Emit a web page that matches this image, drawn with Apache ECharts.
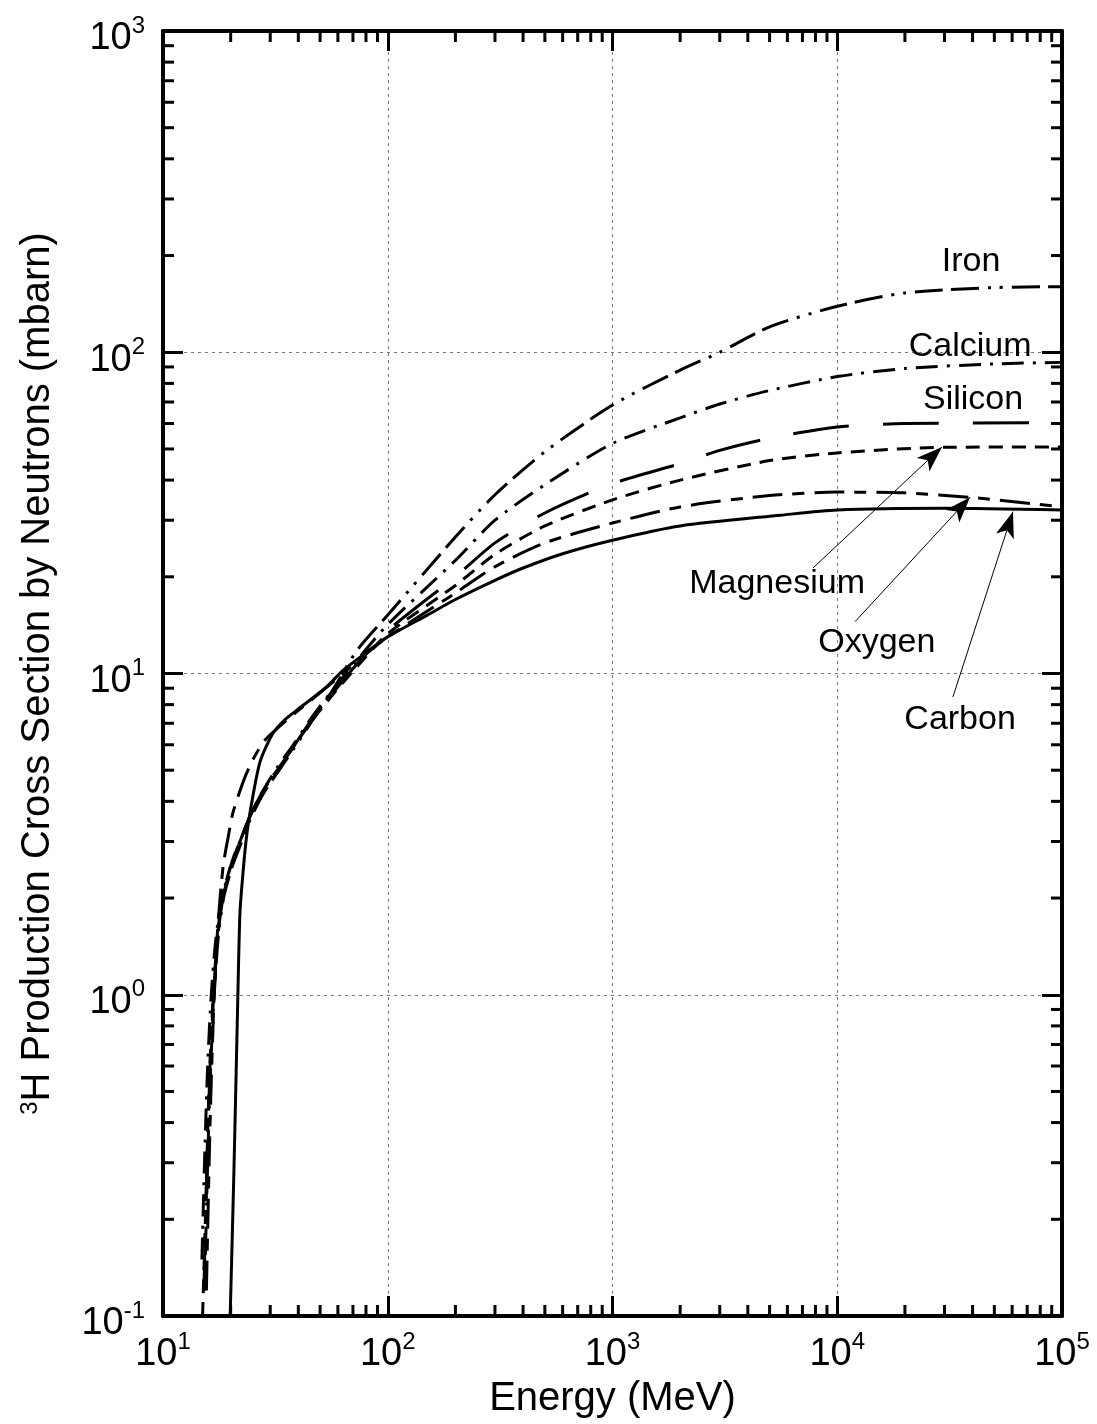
<!DOCTYPE html>
<html>
<head>
<meta charset="utf-8">
<script src="https://cdn.jsdelivr.net/npm/echarts@6/dist/echarts.min.js"></script>
<style>
html, body { margin: 0; padding: 0; background: #fff; }
#chart { width: 1097px; height: 1424px; }
</style>
</head>
<body>
<div id="chart"></div>
<script>
// [energy MeV, cross section mbarn]
const carbon = [[19.9,0.1],[20.7,0.29],[21.5,0.95],[22.0,1.8],[22.7,2.4],[23.4,3.0],[24.4,3.7],[27,5.3],[30.8,6.5],[35,7.2],[39.5,7.7],[53.6,9.1],[63,10.2],[80,11.6],[100,13],[150,15.2],[200,17.0],[300,19.5],[400,21.3],[600,23.6],[1000,26],[2000,28.8],[5600,31.1],[10000,32.3],[30000,32.7],[100000,32.3]];
const oxygen = [[15.6,0.12],[16.2,0.4],[16.8,0.9],[17.5,1.6],[18.5,2.5],[19.5,3.1],[20.5,3.7],[23,4.7],[25.5,5.5],[28.4,6.2],[35,7.1],[45,8.2],[60,9.7],[80,11.5],[100,13],[200,17.8],[300,21.5],[500,25.5],[1000,29.4],[2000,33],[5000,35.8],[10000,36.7],[20000,36.5],[40000,35.3],[100000,33]];
const magnesium = [[15.0,0.1],[15.5,0.22],[16.0,0.5],[16.6,0.9],[17.3,1.4],[18.3,2.0],[20.3,2.6],[22,3.0],[24.4,3.6],[27.8,4.3],[32.2,5.0],[38,5.9],[46.5,7.2],[57,8.6],[73,10.5],[100,13.3],[200,18.8],[300,23.5],[500,28.8],[1000,34.7],[2000,40],[5000,46],[10000,48.6],[30000,50.6],[100000,50.7]];
const silicon = [[15.2,0.12],[15.7,0.3],[16.2,0.6],[16.8,1.0],[17.5,1.5],[18.5,2.0],[20.3,2.6],[22,3.0],[24.4,3.6],[27.8,4.3],[32.2,5.0],[38,5.9],[46.5,7.3],[57,8.7],[73,10.7],[100,13.6],[200,20],[300,25.5],[500,31.6],[1000,39],[2000,45],[3000,49.5],[5000,54],[10000,58.5],[20000,60],[100000,60.3]];
const calcium = [[14.9,0.15],[15.3,0.3],[15.8,0.6],[16.4,1.0],[17.2,1.5],[18.3,2.0],[20.3,2.6],[22,3.0],[24.4,3.6],[27.8,4.3],[32.2,5.1],[38,6.0],[46.5,7.4],[57,8.9],[73,11],[100,14.2],[200,22.5],[300,30],[500,38.7],[1000,52],[2000,62.5],[3000,69],[5000,76],[10000,84],[20000,89],[50000,92],[100000,93]];
const iron = [[15.3,0.12],[15.8,0.3],[16.3,0.6],[16.9,1.0],[17.6,1.5],[18.6,2.0],[20.3,2.5],[22,2.9],[24.4,3.5],[27.8,4.2],[32.2,4.9],[38,5.8],[46.5,7.2],[57,8.9],[73,11.8],[100,15.2],[200,26.6],[300,36],[500,49],[1000,68.5],[2000,88],[3000,100],[5000,120],[10000,139],[20000,153],[50000,159],[100000,160]];

// annotation labels and arrows (data coordinates)
const labelNames = ['Iron', 'Calcium', 'Silicon', 'Magnesium', 'Oxygen', 'Carbon'];
const labelPos = [[39400,192],[39000,104],[40200,71],[5400,19.1],[15000,12.5],[35200,7.16]];
const arrowFrom = [[7800,21.3],[12000,14.5],[32700,8.45]];
const arrowTo = [[29250,50.7],[39000,35.4],[60500,31.9]];

// axis ranges and tick steps
const xRange = [10, 100000];
const yRange = [0.1, 1000];
const minorSteps = [2, 3, 4, 5, 6, 7, 8, 9];
const xDecades = [10, 100, 1000, 10000];
const yDecades = [0.1, 1, 10, 100];

const FONT = 'Liberation Sans, Arial, Helvetica, sans-serif';
const MINOR = 11;

const xMinor = [];
xDecades.forEach(d => minorSteps.forEach(s => xMinor.push(d * s)));
const yMinor = [];
yDecades.forEach(d => minorSteps.forEach(s => yMinor.push(+(d * s).toPrecision(3))));

const powLabel = v => '{b|10}{s|' + Math.round(Math.log10(v)) + '}';
const powRich = {
    b: { fontSize: 38, lineHeight: 44, fontFamily: FONT, color: '#000', verticalAlign: 'bottom' },
    s: { fontSize: 24, lineHeight: 24, fontFamily: FONT, color: '#000', verticalAlign: 'top' }
};

const tickStyle = { inside: true, length: 20, lineStyle: { color: '#000', width: 3 } };
const frameLine = { show: true, lineStyle: { color: '#000', width: 4 } };
const gridLine = { show: true, lineStyle: { color: '#777', width: 1, type: [3, 4] } };

function curve(name, data, type) {
    return {
        name: name,
        type: 'line',
        data: data,
        symbol: 'none',
        smooth: 0.25,
        lineStyle: { color: '#000', width: 3, type: type, cap: 'butt' }
    };
}

const option = {
    animation: false,
    backgroundColor: '#fff',
    grid: { left: 163, right: 35, top: 31, bottom: 108 },
    xAxis: [{
        type: 'log',
        logBase: 10,
        min: xRange[0],
        max: xRange[1],
        position: 'bottom',
        name: 'Energy (MeV)',
        nameLocation: 'middle',
        nameGap: 60,
        nameTextStyle: { fontSize: 40, fontFamily: FONT, color: '#000' },
        axisLine: frameLine,
        axisTick: tickStyle,
        axisLabel: { margin: 14, formatter: powLabel, rich: powRich, showMinLabel: true, showMaxLabel: true },
        splitLine: gridLine
    }, {
        type: 'log',
        logBase: 10,
        min: xRange[0],
        max: xRange[1],
        position: 'top',
        axisLine: frameLine,
        axisTick: tickStyle,
        axisLabel: { show: false },
        splitLine: { show: false }
    }],
    yAxis: [{
        type: 'log',
        logBase: 10,
        min: yRange[0],
        max: yRange[1],
        position: 'left',
        name: '{s|3}{n|H Production Cross Section by Neutrons (mbarn)}',
        nameLocation: 'middle',
        nameGap: 105,
        nameRotate: 90,
        nameTextStyle: {
            fontFamily: FONT,
            color: '#000',
            rich: {
                n: { fontSize: 40, lineHeight: 40, fontFamily: FONT, color: '#000' },
                s: { fontSize: 24, lineHeight: 24, fontFamily: FONT, color: '#000', verticalAlign: 'top' }
            }
        },
        axisLine: frameLine,
        axisTick: tickStyle,
        axisLabel: { margin: 18, padding: [10, 0, 0, 0], formatter: powLabel, rich: powRich, showMinLabel: true, showMaxLabel: true },
        splitLine: gridLine
    }, {
        type: 'log',
        logBase: 10,
        min: yRange[0],
        max: yRange[1],
        position: 'right',
        axisLine: frameLine,
        axisTick: tickStyle,
        axisLabel: { show: false },
        splitLine: { show: false }
    }],
    series: [
        curve('Carbon', carbon, 'solid'),
        curve('Oxygen', oxygen, [30, 10, 12, 10]),
        curve('Magnesium', magnesium, [14, 9]),
        curve('Silicon', silicon, [56, 34]),
        curve('Calcium', calcium, [22, 9, 3, 9]),
        curve('Iron', iron, [28, 8, 28, 9, 3, 9, 3, 9]),
        {
            // minor ticks on bottom and top edges
            type: 'custom',
            silent: true,
            data: xMinor.map(v => [v, yRange[0]]),
            renderItem: function (params, api) {
                const v = api.value(0);
                const b = api.coord([v, yRange[0]]);
                const t = api.coord([v, yRange[1]]);
                return {
                    type: 'group',
                    children: [
                        { type: 'line', shape: { x1: b[0], y1: b[1], x2: b[0], y2: b[1] - MINOR }, style: { stroke: '#000', lineWidth: 3 } },
                        { type: 'line', shape: { x1: t[0], y1: t[1], x2: t[0], y2: t[1] + MINOR }, style: { stroke: '#000', lineWidth: 3 } }
                    ]
                };
            }
        },
        {
            // minor ticks on left and right edges
            type: 'custom',
            silent: true,
            data: yMinor.map(v => [xRange[0], v]),
            renderItem: function (params, api) {
                const v = api.value(1);
                const l = api.coord([xRange[0], v]);
                const r = api.coord([xRange[1], v]);
                return {
                    type: 'group',
                    children: [
                        { type: 'line', shape: { x1: l[0], y1: l[1], x2: l[0] + MINOR, y2: l[1] }, style: { stroke: '#000', lineWidth: 3 } },
                        { type: 'line', shape: { x1: r[0], y1: r[1], x2: r[0] - MINOR, y2: r[1] }, style: { stroke: '#000', lineWidth: 3 } }
                    ]
                };
            }
        },
        {
            // element labels with arrows
            type: 'scatter',
            silent: true,
            symbolSize: 1,
            itemStyle: { color: '#fff' },
            data: labelNames.map((n, i) => ({ name: n, value: labelPos[i] })),
            label: {
                show: true,
                position: 'inside',
                formatter: '{b}',
                fontSize: 34,
                fontFamily: FONT,
                color: '#000',
                opacity: 1,
                textBorderWidth: 0
            },
            markLine: {
                silent: true,
                symbol: ['none', 'arrow'],
                symbolSize: [14, 26],
                label: { show: false },
                lineStyle: { color: '#000', width: 1, type: 'solid', opacity: 1 },
                data: arrowFrom.map((p, i) => [{ coord: p }, { coord: arrowTo[i] }])
            }
        }
    ]
};

const chart = echarts.init(document.getElementById('chart'));
chart.setOption(option);
</script>
</body>
</html>
